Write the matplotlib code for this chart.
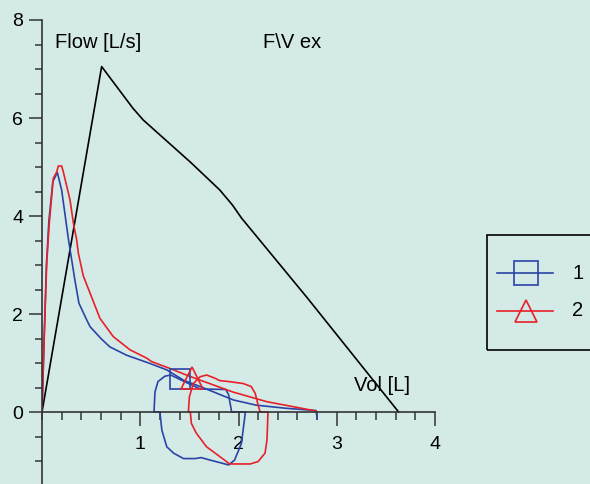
import matplotlib
matplotlib.use("Agg")
import matplotlib.pyplot as plt
from matplotlib.lines import Line2D
from matplotlib.patches import Rectangle
from matplotlib.ticker import MultipleLocator, FixedLocator

plt.rcParams['font.family'] = ['Liberation Sans', 'DejaVu Sans']

BG = '#d4eae7'
BLUE = '#2b44a6'
RED = '#e8202a'
AXC = '#333333'

# predicted flow-volume envelope
pred_vol = [0, 0.607, 0.925, 1.03, 1.51, 1.81, 1.94, 2.03, 2.70, 3.63]
pred_flow = [0, 7.05, 6.20, 5.96, 5.10, 4.53, 4.22, 3.96, 2.33, 0]

# trial 1, expiratory limb
t1_vol = [0, 0.02, 0.045, 0.07, 0.11, 0.156, 0.20, 0.27, 0.335, 0.376, 0.455,
          0.49, 0.60, 0.69, 0.86, 1.10, 1.27, 1.44, 1.61, 1.95, 2.18, 2.49,
          2.79, 2.80]
t1_flow = [0, 1.4, 3.0, 3.9, 4.7, 4.89, 4.53, 3.51, 2.69, 2.22, 1.88,
           1.74, 1.50, 1.33, 1.16, 0.99, 0.86, 0.65, 0.52, 0.245, 0.14, 0.075,
           0.03, -0.14]

# trial 1, inspiratory loop
t1_in_vol = [1.93, 2.07, 2.03, 1.96, 1.90, 1.71, 1.62, 1.56, 1.44, 1.34, 1.27,
             1.22, 1.20, 1.14, 1.15, 1.18, 1.25, 1.31, 1.45, 1.61, 1.87, 1.90,
             1.93]
t1_in_flow = [0, 0, -0.64, -0.98, -1.08, -0.98, -0.93, -0.95, -0.95, -0.84,
              -0.71, -0.37, 0, 0, 0.41, 0.62, 0.73, 0.755, 0.62, 0.47, 0.46,
              0.35, 0]

# trial 2, expiratory limb
t2_vol = [0, 0.023, 0.048, 0.074, 0.115, 0.15, 0.166, 0.20, 0.217, 0.285,
          0.32, 0.353, 0.37, 0.42, 0.59, 0.725, 0.895, 1.065, 1.115, 1.30,
          1.47, 1.61, 1.94, 2.29, 2.79]
t2_flow = [0, 1.54, 3.03, 3.85, 4.77, 4.90, 5.02, 5.02, 4.90, 4.33,
           3.85, 3.51, 3.24, 2.78, 1.91, 1.54, 1.27, 1.10, 1.03, 0.89,
           0.755, 0.65, 0.41, 0.21, 0.02]

# trial 2, inspiratory loop
t2_in_vol = [2.22, 2.30, 2.29, 2.27, 2.20, 2.12, 1.91, 1.81, 1.675, 1.57, 1.52,
             1.51, 1.49, 1.50, 1.54, 1.61, 1.675, 1.76, 1.81, 1.91, 2.05, 2.13,
             2.17, 2.20, 2.22]
t2_in_flow = [0, 0, -0.57, -0.84, -1.01, -1.06, -1.06, -0.91, -0.71, -0.43,
              -0.23, 0, 0, 0.31, 0.58, 0.72, 0.755, 0.69, 0.64, 0.62, 0.58,
              0.52, 0.38, 0.14, 0]

# symbol positions for each trial
t1_mark = (1.404, 0.673)
t2_mark = (1.523, 0.694)

trial_labels = ['1', '2']

fig = plt.figure(figsize=(5.9, 4.84), dpi=100, facecolor=BG)
ax = fig.add_axes([42 / 590, 0, 393 / 590, 464 / 484])
ax.set_facecolor(BG)
ax.patch.set_alpha(0)

ax.plot(pred_vol, pred_flow, color='black', lw=1.2)
ax.plot(t1_vol, t1_flow, color=BLUE, lw=1.2)
ax.plot(t1_in_vol, t1_in_flow, color=BLUE, lw=1.2)
ax.plot(t2_vol, t2_flow, color=RED, lw=1.2)
ax.plot(t2_in_vol, t2_in_flow, color=RED, lw=1.2)
ax.plot([t1_mark[0]], [t1_mark[1]], marker='s', ms=14, mfc='none',
        mec=BLUE, mew=1.2, ls='none')
ax.plot([t2_mark[0]], [t2_mark[1]], marker='^', ms=15.5, mfc='none',
        mec=RED, mew=1.2, ls='none')

ax.set_xlim(0, 4)
ax.set_ylim(-1.469, 8)

for s in ['top', 'right']:
    ax.spines[s].set_visible(False)
ax.spines['bottom'].set_position(('data', 0))
for s in ['left', 'bottom']:
    ax.spines[s].set_color(AXC)
    ax.spines[s].set_linewidth(1.2)

ax.xaxis.set_major_locator(FixedLocator([1, 2, 3, 4]))
ax.xaxis.set_minor_locator(MultipleLocator(0.2))
ax.yaxis.set_major_locator(FixedLocator([0, 2, 4, 6, 8]))
ax.yaxis.set_minor_locator(MultipleLocator(0.5))

ax.tick_params(axis='x', which='major', direction='out', length=10, width=1.1,
               color=AXC, labelsize=14, pad=7)
ax.tick_params(axis='x', which='minor', direction='out', length=6, width=1.1,
               color=AXC)
ax.tick_params(axis='y', which='major', direction='out', length=9.5, width=1.1,
               color=AXC, labelsize=14, pad=4)
ax.tick_params(axis='y', which='minor', direction='out', length=5, width=1.1,
               color=AXC)

ax.text(0.13, 7.55, 'Flow [L/s]', fontsize=14.5, va='center', ha='left')
ax.text(2.25, 7.55, 'F\\V ex', fontsize=14.5, va='center', ha='left')
ax.text(3.18, 0.55, 'Vol [L]', fontsize=14.5, va='center', ha='left')

# legend box
fig.add_artist(Rectangle((487 / 590, 1 - 350 / 484), 0.3, 115 / 484,
                         transform=fig.transFigure, fill=False,
                         edgecolor='black', lw=1.2))
for lab, col, mk, ms, yy in [(trial_labels[0], BLUE, 's', 17, 273.3),
                             (trial_labels[1], RED, '^', 16.5, 310.7)]:
    fy = 1 - yy / 484
    fig.add_artist(Line2D([497 / 590, 553 / 590], [fy, fy],
                          transform=fig.transFigure, color=col, lw=1.2))
    fig.add_artist(Line2D([525.7 / 590], [fy], transform=fig.transFigure,
                          marker=mk, ms=ms, mfc='none', mec=col, mew=1.2,
                          ls='none'))
    fig.text(578 / 590, fy, lab, fontsize=14.5, ha='center', va='center')

fig.savefig('out.png', dpi=100, facecolor=BG)
